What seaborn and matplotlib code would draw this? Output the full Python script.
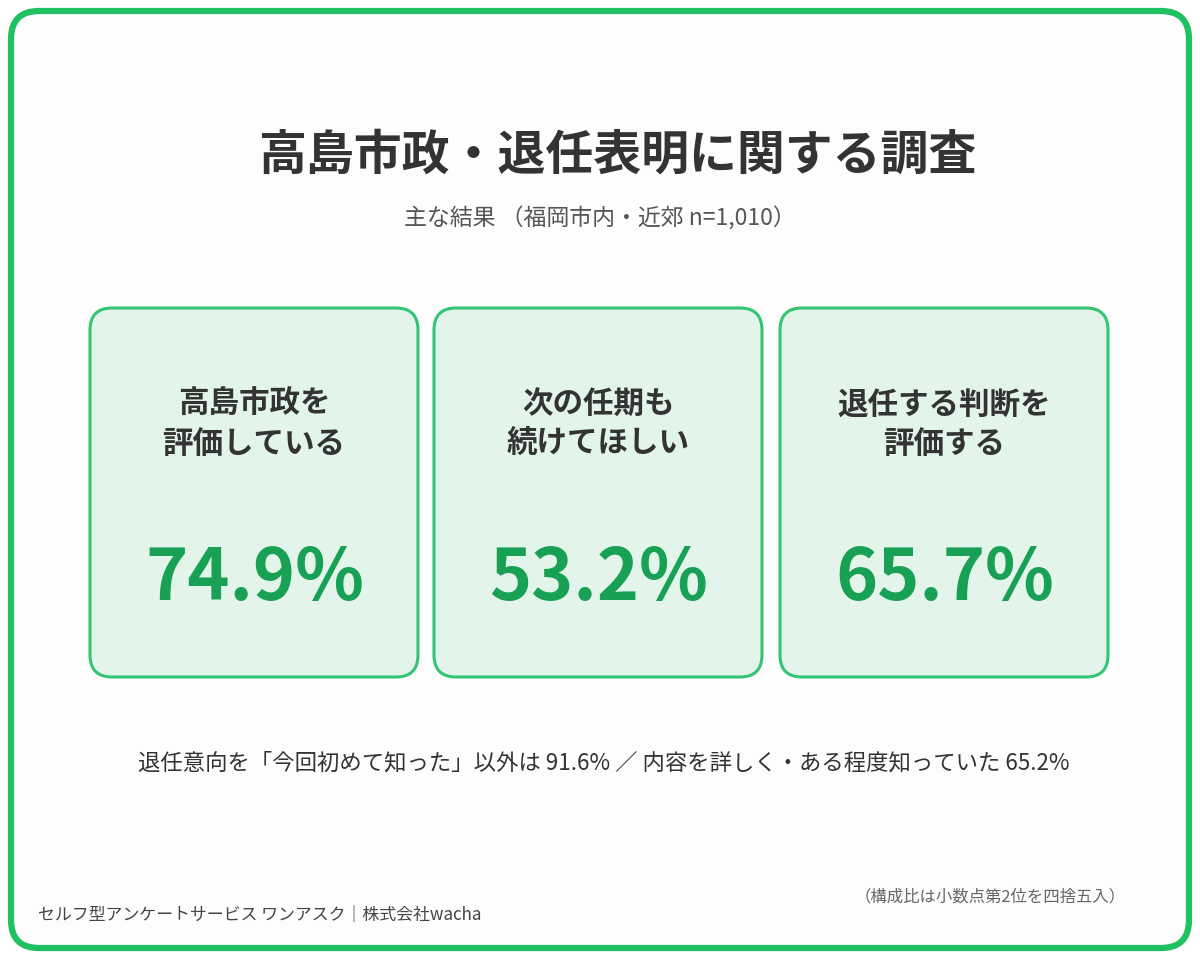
import matplotlib
matplotlib.use("Agg")
import matplotlib.pyplot as plt
from matplotlib.patches import FancyBboxPatch
import seaborn as sns

# データ
title = "高島市政・退任表明に関する調査"
subtitle = "主な結果 （福岡市内・近郊 n=1,010）"
card_labels = ["高島市政を\n評価している", "次の任期も\n続けてほしい", "退任する判断を\n評価する"]
card_values = [74.9, 53.2, 65.7]
note = "退任意向を「今回初めて知った」以外は 91.6% ／ 内容を詳しく・ある程度知っていた 65.2%"
footer_left = "セルフ型アンケートサービス ワンアスク｜株式会社wacha"
footer_right = "（構成比は小数点第2位を四捨五入）"

# 色
GREEN_LINE = "#1fc062"
CARD_EDGE = "#34c574"
CARD_FILL = "#e3f5ea"
VALUE_GREEN = "#18a055"
DARK = "#333333"

sns.set_theme(style="white")
plt.rcParams["font.family"] = ["Noto Sans CJK JP", "DejaVu Sans"]

fig = plt.figure(figsize=(12, 9.6), dpi=100)
fig.patch.set_facecolor("white")
ax = fig.add_axes([0, 0, 1, 1])
ax.set_xlim(0, 1200)
ax.set_ylim(960, 0)
ax.axis("off")

# 外枠
ax.add_patch(FancyBboxPatch((11, 11), 1178, 937,
                            boxstyle="round,pad=0,rounding_size=28",
                            fc="#fdfdfe", ec=GREEN_LINE, lw=4.5))

ax.text(617, 155, title, ha="center", va="center", fontsize=34.5,
        fontweight="bold", color=DARK)
ax.text(600, 219, subtitle, ha="center", va="center", fontsize=16.5,
        color="#555555")

# カード
card_x = [90, 434, 780]
card_w = 328
card_top, card_h = 308, 369
for x0, lab, val in zip(card_x, card_labels, card_values):
    ax.add_patch(FancyBboxPatch((x0, card_top), card_w, card_h,
                                boxstyle="round,pad=0,rounding_size=22",
                                fc=CARD_FILL, ec=CARD_EDGE, lw=2.2))
    cx = x0 + card_w / 2
    ax.text(cx, 424, lab, ha="center", va="center", fontsize=22,
            fontweight="bold", color=DARK, linespacing=1.3)
    ax.text(cx + 1, 600, f"{val:.1f}%", ha="center", va="baseline", fontsize=51.5,
            fontweight="bold", color=VALUE_GREEN)

ax.text(604, 763, note, ha="center", va="center", fontsize=16.1, color=DARK)

ax.text(38, 915, footer_left, ha="left", va="center", fontsize=12.2,
        color="#444444")
ax.text(1126, 897, footer_right, ha="right", va="center", fontsize=11.8,
        color="#666666")

fig.savefig("out.png", dpi=100, facecolor="white")
